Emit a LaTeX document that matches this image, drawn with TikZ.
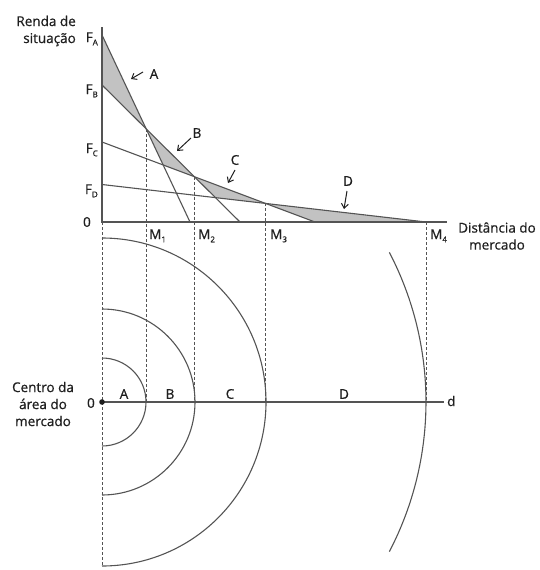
\documentclass[tikz,border=0pt]{standalone}
\usepackage{fontspec}
\setmainfont{Open Sans}[FakeBold=0.7]
\usetikzlibrary{arrows.meta}
\definecolor{ln}{gray}{0.33}
\definecolor{shadefill}{gray}{0.76}
\definecolor{txt}{gray}{0.12}
\newcommand\lsub[1]{\raisebox{-0.45ex}{\fontsize{8}{8}\selectfont #1}}
\begin{document}
\begin{tikzpicture}[x=1pt,y=-1pt,
 curve/.style={draw=ln, line width=1.1pt},
 axisline/.style={draw=ln, line width=1.1pt},
 guide/.style={draw=ln, line width=0.8pt, dash pattern=on 3pt off 2pt},
 lbl/.style={text=txt, font=\fontsize{13.5}{17}\selectfont, inner sep=0pt},
 pointer/.style={draw=txt, line width=1pt, -{Straight Barb[length=4.5pt,width=7pt]}},
 region/.style={fill=shadefill}]
\useasboundingbox (0,0) rectangle (540,570);
% key points
\coordinate (O0) at (102,222);
\coordinate (Ytop) at (102,27);
\coordinate (Xend) at (447,222);
\coordinate (FA) at (102,35);
\coordinate (XA) at (190,222);
\coordinate (FB) at (102,85);
\coordinate (XB) at (240,222);
\coordinate (FC) at (102,142);
\coordinate (XC) at (315,222);
\coordinate (FD) at (102,184.5);
\coordinate (M4) at (426,222);
\coordinate (P1) at (intersection of FA--XA and FB--XB);
\coordinate (P2) at (intersection of FB--XB and FC--XC);
\coordinate (P3) at (intersection of FC--XC and FD--M4);
\coordinate (QA) at (intersection of FA--XA and FC--XC);
\coordinate (QB) at (intersection of FB--XB and FD--M4);
\coordinate (O) at (102,402);
\coordinate (Oend) at (444,402);
\coordinate (Ybot) at (102,566);
% shaded regions
\fill[region] (FA) -- (P1) -- (FB) -- cycle;
\fill[region] (P1) -- (P2) -- (QA) -- cycle;
\fill[region] (P2) -- (P3) -- (QB) -- cycle;
\fill[region] (P3) -- (M4) -- (XC) -- cycle;
% lines
\draw[curve] (FA) -- (XA);
\draw[curve] (FB) -- (XB);
\draw[curve] (FC) -- (XC);
\draw[curve] (FD) -- (M4);
% axes
\draw[axisline] (Ytop) -- (O0) -- (Xend);
\draw[axisline] (O) -- (Oend);
% guides
\draw[guide] (O0) -- (Ybot);
\draw[guide] (P1) -- (P1 |- O);
\draw[guide] (P2) -- (P2 |- O);
\draw[guide] (P3) -- (P3 |- O);
\draw[guide] (M4) -- (M4 |- O);
% circles
\draw[curve] (O) ++(90:44pt) arc[start angle=90, end angle=-90, radius=44pt];
\draw[curve] (O) ++(90:93pt) arc[start angle=90, end angle=-90, radius=93pt];
\draw[curve] (O) ++(90:164pt) arc[start angle=90, end angle=-90, radius=164pt];
\draw[curve] (O) ++(27.5:324pt) arc[start angle=27.5, end angle=-27.5, radius=324pt];
\fill[txt] (O) circle (2.8pt);
% texts
\node[lbl, anchor=east, align=right] (ylab) at (76,31) {Renda de\\situação};
\node[lbl, anchor=center, align=center] (xlab) at (497,236) {Distância do\\mercado};
\node[lbl, anchor=center, align=center] (clab) at (43,404) {Centro da\\área do\\mercado};
\node[lbl, anchor=base east] (fa) at (98,42) {F\lsub{A}};
\node[lbl, anchor=base east] (fb) at (98,94) {F\lsub{B}};
\node[lbl, anchor=base east] (fc) at (98,153) {F\lsub{C}};
\node[lbl, anchor=base east] (fd) at (98,194) {F\lsub{D}};
\node[lbl, anchor=east] (zu) at (91,222) {0};
\node[lbl, anchor=east] (zl) at (95,403) {0};
\node[lbl, anchor=base west] (m1) at (149,239) {M\lsub{1}};
\node[lbl, anchor=base west] (m2) at (198,239) {M\lsub{2}};
\node[lbl, anchor=base west] (m3) at (270,239) {M\lsub{3}};
\node[lbl, anchor=base west] (m4) at (430,239) {M\lsub{4}};
\node[lbl] (la) at (124,394) {A};
\node[lbl] (lb) at (170,394) {B};
\node[lbl] (lc) at (230,394) {C};
\node[lbl] (ld) at (344,394) {D};
\node[lbl, anchor=west] (dd) at (447,401) {d};
% pointer labels
\node[lbl] (pa) at (154,74) {A};
\node[lbl] (pb) at (197,133) {B};
\node[lbl] (pc) at (235,160) {C};
\node[lbl] (pd) at (348,181) {D};
\coordinate (aS) at (143,72); \coordinate (aE) at (131,79);
\coordinate (bS) at (191,138); \coordinate (bE) at (177,151);
\coordinate (cS) at (235,170); \coordinate (cE) at (228,183);
\coordinate (dS) at (347,191); \coordinate (dE) at (344,209);
\draw[pointer] (aS) -- (aE);
\draw[pointer] (bS) -- (bE);
\draw[pointer] (cS) -- (cE);
\draw[pointer] (dS) -- (dE);
\end{tikzpicture}
\end{document}
